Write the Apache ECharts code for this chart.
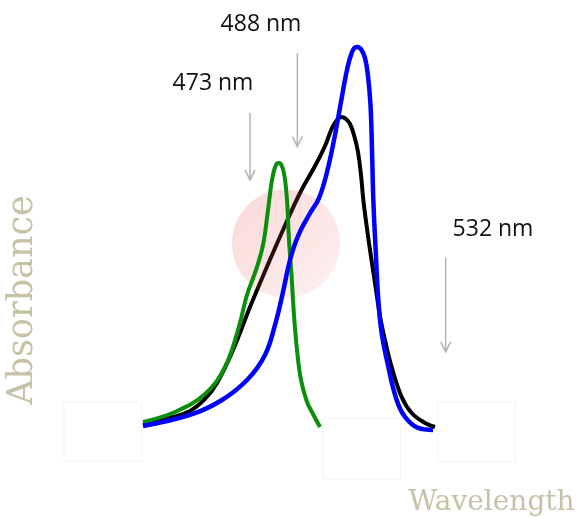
<!DOCTYPE html>
<html>
<head>
<meta charset="utf-8">
<script src="https://cdn.jsdelivr.net/npm/echarts@6/dist/echarts.min.js"></script>
<style>
html,body{margin:0;padding:0;background:#fff;}
#chart{width:580px;height:517px;}
</style>
</head>
<body>
<div id="chart"></div>
<script>
// Wavelength (nm) vs absorbance (arbitrary units)
var blackCurve = [
  [440.9,0.0132],[449.0,0.0316],[455.0,0.05],[459.5,0.0816],[463.1,0.1237],
  [467.9,0.2105],[473.0,0.3237],[477.8,0.4237],[482.9,0.5263],[488.0,0.6237],
  [492.5,0.6947],[495.5,0.7474],[497.6,0.7947],[499.1,0.8158],[500.45,0.8237],
  [501.8,0.8184],[503.0,0.8053],[504.2,0.7763],[505.4,0.7316],[506.3,0.6711],
  [507.0,0.6053],[507.95,0.5395],[509.0,0.4737],[510.5,0.3868],[512.0,0.3],
  [513.5,0.2368],[515.5,0.1658],[518.5,0.0868],[521.5,0.0447],[525.5,0.0184],
  [528.5,0.0079]
];
var blueCurve = [
  [440.9,0.0105],[455.0,0.0395],[464.6,0.0789],[472.4,0.1342],[477.5,0.1974],
  [480.5,0.2763],[482.9,0.3632],[485.0,0.4474],[487.4,0.5105],[490.7,0.5658],
  [493.7,0.6105],[496.1,0.6789],[498.2,0.7632],[500.3,0.8632],[502.1,0.9474],
  [503.6,0.9947],[504.95,1.0079],[506.3,1.0026],[507.5,0.9789],[508.4,0.9316],
  [509.15,0.8553],[509.6,0.7368],[510.0,0.6053],[510.7,0.4737],[511.5,0.3421],
  [512.5,0.2553],[514.5,0.1658],[517.0,0.0789],[519.5,0.0342],[523.4,0.0053],
  [527.9,0.0]
];
var greenCurve = [
  [440.9,0.0211],[450.5,0.0474],[459.5,0.0947],[465.5,0.1658],[469.4,0.2632],
  [472.1,0.3553],[474.8,0.4211],[476.9,0.4868],[478.4,0.5789],[479.6,0.6579],
  [480.65,0.6947],[481.55,0.7026],[482.45,0.6974],[483.35,0.6684],[484.1,0.6053],
  [484.7,0.5],[485.45,0.4079],[486.2,0.3026],[487.1,0.2105],[488.3,0.1316],
  [490.1,0.0737],[491.9,0.0421],[494.0,0.0079]
];
// laser lines: [wavelength, arrow top, arrow tip]
var laserArrows = [[473.0,0.834,0.658],[487.2,0.992,0.746],[531.7,0.453,0.206]];
// label texts and their anchor [wavelength, absorbance]
var laserLabels = ['473 nm','488 nm','532 nm'];
var laserLabelPos = [[461.9,0.9118],[476.3,1.0684],[545.9,0.5276]];
// highlight spot [wavelength, absorbance]
var spot = [[483.8,0.4908]];
// faint boxes [x1, y1, x2, y2]
var faintBoxes = [[417.2,0.0745,440.5,-0.0816],[494.8,0.0316,518.2,-0.129],[529.3,0.0745,552.6,-0.0834]];
var xTitle = 'Wavelength';
var yTitle = 'Absorbance';

var chart = echarts.init(document.getElementById('chart'));
var titleColor = '#c6c2a6';
chart.setOption({
  animation: false,
  backgroundColor: '#ffffff',
  grid: {left: 0, right: 0, top: 0, bottom: 0},
  xAxis: {type: 'value', min: 398, max: 572, show: false},
  yAxis: {type: 'value', min: -0.229, max: 1.1316, show: false},
  graphic: [
    {type: 'text', x: 23, y: 300, rotation: Math.PI/2, z: 10,
     style: {text: yTitle, font: '35px "DejaVu Serif"', fill: titleColor, align: 'center', verticalAlign: 'middle'}},
    {type: 'text', x: 491.5, y: 503, z: 10,
     style: {text: xTitle, font: '28px "DejaVu Serif"', fill: titleColor, align: 'center', verticalAlign: 'middle'}}
  ],
  series: [
    {type: 'custom', z: 1, silent: true,
     data: faintBoxes,
     renderItem: function(params, api){
       var a = api.coord([api.value(0), api.value(1)]);
       var b = api.coord([api.value(2), api.value(3)]);
       return {type: 'rect', shape: {x: a[0], y: a[1], width: b[0]-a[0], height: b[1]-a[1]},
               style: {fill: 'none', stroke: '#f3f3ef', lineWidth: 1}};
     }},
    {type: 'line', z: 2, data: blackCurve, smooth: 0.4, showSymbol: false,
     lineStyle: {color: '#000000', width: 4}},
    {type: 'scatter', z: 3, data: spot, symbolSize: 108, silent: true,
     itemStyle: {color: new echarts.graphic.LinearGradient(0, 0, 1, 1, [
       {offset: 0, color: 'rgba(238,90,90,0.30)'},
       {offset: 1, color: 'rgba(238,90,90,0.10)'}
     ])}},
    {type: 'line', z: 4, data: greenCurve, smooth: 0.4, showSymbol: false,
     lineStyle: {color: '#0a8f0a', width: 4}},
    {type: 'line', z: 5, data: blueCurve, smooth: 0.4, showSymbol: false,
     lineStyle: {color: '#0000ff', width: 4.5}},
    {type: 'custom', z: 6, silent: true,
     data: laserArrows,
     renderItem: function(params, api){
       var p1 = api.coord([api.value(0), api.value(1)]);
       var p2 = api.coord([api.value(0), api.value(2)]);
       var st = {stroke: '#b3b3b3', lineWidth: 1.5, fill: 'none'};
       return {type: 'group', children: [
         {type: 'line', shape: {x1: p1[0], y1: p1[1], x2: p2[0], y2: p2[1]}, style: st},
         {type: 'polyline', shape: {points: [[p2[0]-5, p2[1]-10],[p2[0], p2[1]],[p2[0]+5, p2[1]-10]]}, style: st}
       ]};
     }},
    {type: 'custom', z: 7, silent: true,
     data: laserLabelPos,
     renderItem: function(params, api){
       var p = api.coord([api.value(0), api.value(1)]);
       return {type: 'text', x: p[0], y: p[1],
               style: {text: laserLabels[params.dataIndex], font: '23px "Open Sans"', fill: '#111111',
                       align: 'center', verticalAlign: 'middle'}};
     }}
  ]
});
</script>
</body>
</html>
